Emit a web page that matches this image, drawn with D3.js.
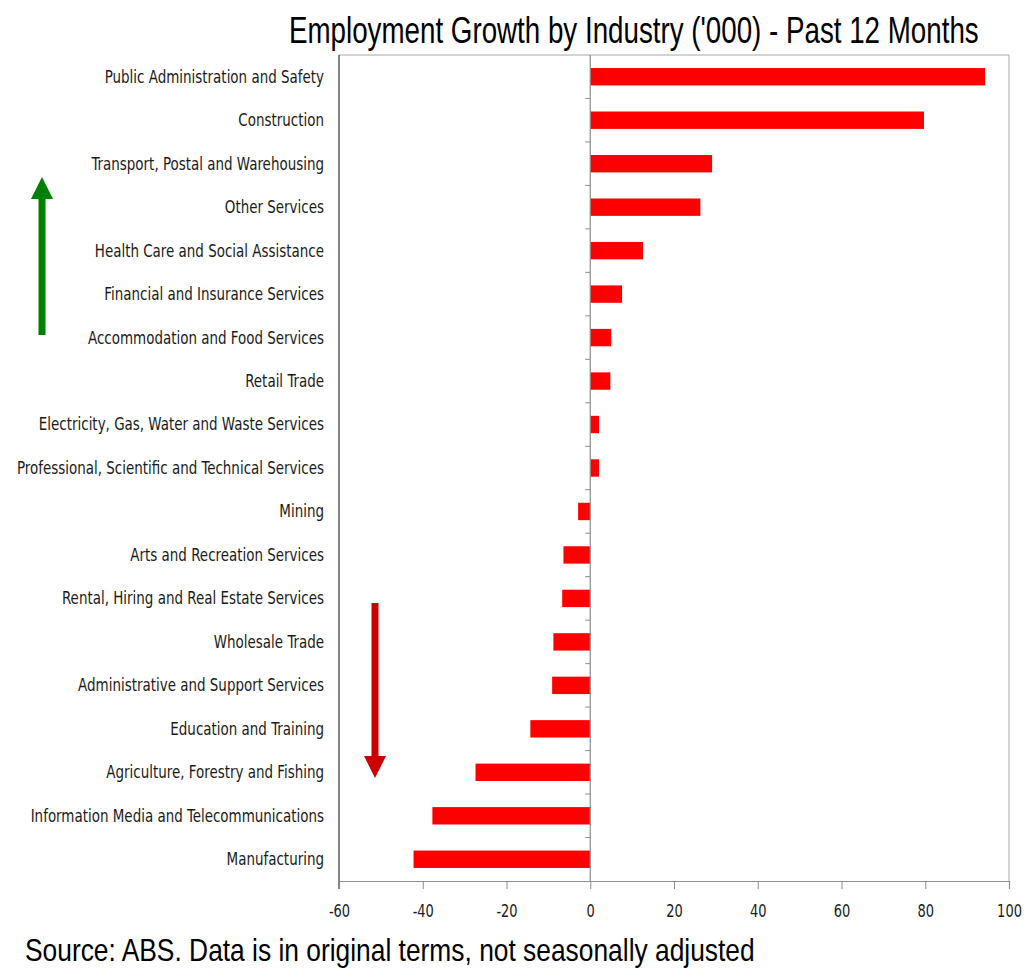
<!DOCTYPE html>
<html>
<head>
<meta charset="utf-8">
<script src="https://cdn.jsdelivr.net/npm/d3@7"></script>
<style>
  body { margin: 0; background: #fff; }
  svg { display: block; }
</style>
</head>
<body>
<div id="chart"></div>
<script>
var industries = [
  "Public Administration and Safety",
  "Construction",
  "Transport, Postal and Warehousing",
  "Other Services",
  "Health Care and Social Assistance",
  "Financial and Insurance Services",
  "Accommodation and Food Services",
  "Retail Trade",
  "Electricity, Gas, Water and Waste Services",
  "Professional, Scientific and Technical Services",
  "Mining",
  "Arts and Recreation Services",
  "Rental, Hiring and Real Estate Services",
  "Wholesale Trade",
  "Administrative and Support Services",
  "Education and Training",
  "Agriculture, Forestry and Fishing",
  "Information Media and Telecommunications",
  "Manufacturing"
];
var growth = [94.3, 79.7, 29.1, 26.3, 12.6, 7.6, 5.0, 4.8, 2.1, 2.1,
  -2.9, -6.4, -6.7, -8.8, -9.1, -14.3, -27.4, -37.7, -42.2];
var xTicks = [-60, -40, -20, 0, 20, 40, 60, 80, 100];
var titleText = "Employment Growth by Industry ('000) - Past 12 Months";
var sourceText = "Source: ABS. Data is in original terms, not seasonally adjusted";

var width = 1032, height = 970;
var plot = {left: 339, right: 1009, top: 55, bottom: 881};
var labelFont = "'DejaVu Sans Condensed', 'Liberation Sans Narrow', sans-serif";

var svg = d3.select("#chart").append("svg")
  .attr("width", width)
  .attr("height", height);

var x = d3.scaleLinear().domain([-60, 100]).range([plot.left, plot.right]);
var y = d3.scaleBand().domain(industries).range([plot.top, plot.bottom])
  .paddingInner(0.6).paddingOuter(0.3);

// frame
svg.append("line")
  .attr("x1", plot.left).attr("x2", plot.right)
  .attr("y1", plot.top).attr("y2", plot.top)
  .attr("stroke", "#a6a6a6").attr("stroke-width", 1);
svg.append("line")
  .attr("x1", plot.right).attr("x2", plot.right)
  .attr("y1", plot.top).attr("y2", plot.bottom)
  .attr("stroke", "#a6a6a6").attr("stroke-width", 1);
svg.append("line")
  .attr("x1", plot.left).attr("x2", plot.left)
  .attr("y1", plot.top).attr("y2", plot.bottom + 8)
  .attr("stroke", "#333").attr("stroke-width", 1.2);

// bars
svg.append("g").selectAll("rect")
  .data(industries)
  .enter()
  .append("rect")
  .attr("x", function(d, i) { return Math.min(x(0), x(growth[i])); })
  .attr("y", function(d) { return y(d); })
  .attr("width", function(d, i) { return Math.abs(x(growth[i]) - x(0)); })
  .attr("height", y.bandwidth())
  .attr("fill", "#ff0000");

// zero line with small ticks at band boundaries
svg.append("line")
  .attr("x1", x(0)).attr("x2", x(0))
  .attr("y1", plot.top).attr("y2", plot.bottom)
  .attr("stroke", "#8c8c8c").attr("stroke-width", 1.2);
svg.append("g").selectAll("line")
  .data(industries.slice(1))
  .enter()
  .append("line")
  .attr("x1", x(0) - 5).attr("x2", x(0))
  .attr("y1", function(d) { return y(d) - y.step() * y.paddingInner() / 2; })
  .attr("y2", function(d) { return y(d) - y.step() * y.paddingInner() / 2; })
  .attr("stroke", "#8c8c8c").attr("stroke-width", 1);

// category labels (squeezed to look like the narrow original font)
var labels = svg.append("g").selectAll("text")
  .data(industries)
  .enter()
  .append("text")
  .attr("x", 324)
  .attr("y", function(d) { return y(d) + y.bandwidth() / 2; })
  .attr("dy", "0.35em")
  .attr("text-anchor", "end")
  .style("font-family", labelFont)
  .style("font-size", "17px")
  .style("fill", "#1a1a1a")
  .text(function(d) { return d; });

var longest = 0;
labels.each(function() { longest = Math.max(longest, this.getComputedTextLength()); });
var squeeze = 307 / longest;
labels.each(function() {
  d3.select(this)
    .attr("textLength", this.getComputedTextLength() * squeeze)
    .attr("lengthAdjust", "spacingAndGlyphs");
});

// x axis
var xAxis = d3.axisBottom(x).tickValues(xTicks).tickSize(8)
  .tickFormat(function(d) { return String(d); });
var gx = svg.append("g")
  .attr("transform", "translate(0," + plot.bottom + ")")
  .call(xAxis);
gx.select(".domain").attr("stroke", "#8c8c8c").attr("stroke-width", 1.2);
gx.selectAll(".tick line").attr("stroke", "#8c8c8c");
gx.selectAll(".tick text")
  .attr("y", 24)
  .style("font-family", labelFont)
  .style("font-size", "17px")
  .style("fill", "#1a1a1a")
  .each(function() {
    d3.select(this)
      .attr("textLength", this.getComputedTextLength() * 0.85)
      .attr("lengthAdjust", "spacingAndGlyphs");
  });

// squeeze a text horizontally to a target width with a transform
function squeezedText(str, left, baseline, size, target) {
  var t = svg.append("text")
    .style("font-family", "'Liberation Sans', Arial, sans-serif")
    .style("font-size", size + "px")
    .style("fill", "#000")
    .text(str);
  var w = t.node().getComputedTextLength();
  t.attr("transform", "translate(" + left + "," + baseline + ") scale(" + (target / w) + ",1)");
  return t;
}

squeezedText(titleText, 289, 43, 37, 690);
squeezedText(sourceText, 25, 961, 31, 730);

// arrows
function arrow(cx, yTail, yTip, color) {
  var dir = yTip < yTail ? -1 : 1;
  var headLen = 22, headHalf = 11;
  svg.append("line")
    .attr("x1", cx).attr("x2", cx)
    .attr("y1", yTail).attr("y2", yTip - dir * headLen)
    .attr("stroke", color).attr("stroke-width", 7);
  svg.append("path")
    .attr("d", "M" + (cx - headHalf) + "," + (yTip - dir * headLen) +
      "L" + (cx + headHalf) + "," + (yTip - dir * headLen) +
      "L" + cx + "," + yTip + "Z")
    .attr("fill", color);
}
arrow(42, 335, 177, "#008000");
arrow(375, 603, 778, "#cc0000");
</script>
</body>
</html>
